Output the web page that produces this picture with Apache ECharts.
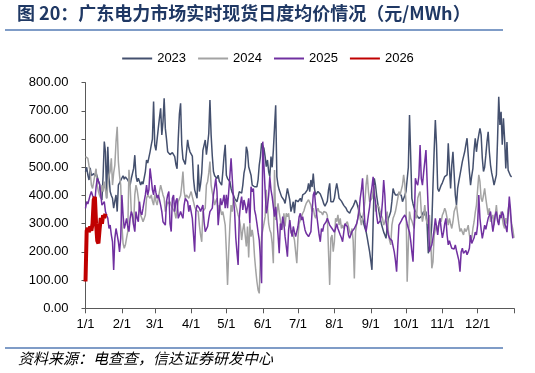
<!DOCTYPE html>
<html><head><meta charset="utf-8">
<script src="https://cdn.jsdelivr.net/npm/echarts@6/dist/echarts.min.js"></script>
<style>html,body{margin:0;padding:0;background:#fff;}#c{width:535px;height:373px;}</style>
</head><body><div id="c"></div>
<script>
const monthLengths = [31,28,31,30,31,30,31,31,30,31,30,31];
const monthTickIdx = [0,31,59,90,120,151,181,212,243,273,304,334,365];
const yTicks = [0,100,200,300,400,500,600,700,800];
const seriesNames = ['2023','2024','2025','2026'];

const s2023 = [
484,500,472,455,498,470,465,478,468,480,
485,452,440,402,384,470,591,555,390,573,
470,414,400,390,355,380,402,343,437,445,
449,462,470,458,466,470,455,448,437,460,
478,496,543,470,449,461,450,437,449,440,
437,485,526,515,508,555,579,600,733,579,
560,555,638,675,709,615,660,745,638,600,
555,548,545,540,552,555,538,510,495,600,
690,727,580,530,520,510,510,597,570,555,
555,540,460,420,405,390,510,414,440,480,
560,567,597,545,580,620,739,615,540,485,
470,465,460,472,450,445,437,485,540,580,
472,460,455,449,425,410,402,390,385,378,
395,414,420,408,437,479,500,573,555,502,
497,472,437,430,431,437,431,455,508,538,
585,580,567,538,502,526,485,467,538,500,
560,640,720,467,437,420,414,396,402,384,
372,378,425,420,384,343,360,378,337,384,
384,378,384,390,378,402,396,408,408,420,
443,414,455,430,478,425,402,408,414,420,
405,398,384,370,362,355,380,420,443,378,
372,378,390,420,443,420,390,384,380,378,
365,372,355,345,340,337,348,355,362,372,
384,375,360,343,330,325,319,300,285,272,
250,225,201,170,136,300,461,437,400,370,
343,320,300,295,270,260,248,290,319,330,
343,380,425,410,402,395,402,410,414,400,
378,385,400,414,420,500,685,540,390,370,
355,340,331,325,319,322,325,330,343,330,
343,295,195,189,236,300,437,560,668,580,
425,414,420,437,445,449,467,470,473,585,
500,425,508,555,480,402,366,425,450,473,
496,520,538,555,580,603,543,485,437,470,
496,560,603,555,590,615,638,615,532,485,
500,543,590,626,555,508,480,461,437,455,
473,600,750,650,697,580,674,600,496,590,
490,480,470,466
];

const s2024 = [
538,540,532,505,485,437,425,448,473,495,
437,414,400,390,437,414,449,420,390,437,
470,485,532,437,480,508,590,644,520,470,
437,295,230,213,225,250,272,491,437,343,
320,295,402,437,420,390,355,330,319,307,
318,331,390,402,395,390,402,380,366,402,
380,366,390,414,437,420,402,390,343,360,
378,370,378,365,355,360,340,319,350,378,
378,400,437,485,414,390,402,402,390,390,
414,395,378,360,350,343,343,295,260,236,
343,350,355,437,449,480,520,437,410,390,
366,380,390,343,366,350,331,343,320,295,
201,83,201,295,366,343,390,378,366,350,
331,319,290,242,278,301,307,219,290,180,
300,254,278,250,183,136,95,65,53,183,
254,278,300,325,420,360,300,278,266,230,
160,490,313,337,372,340,313,278,290,337,
290,337,325,337,300,266,278,260,242,200,
160,254,301,313,325,337,345,360,372,378,
385,390,366,343,355,331,319,343,355,343,
349,340,331,343,350,340,330,200,83,248,
260,201,236,319,307,331,295,319,283,295,
283,295,300,307,290,272,260,283,240,106,
272,300,319,366,319,295,320,343,380,437,
473,414,378,385,390,420,437,343,366,366,
360,343,330,319,295,307,320,343,272,240,
225,295,319,330,343,366,390,414,402,420,
437,473,440,378,94,225,343,319,310,307,
283,343,319,390,405,414,343,307,330,366,
319,300,295,331,250,142,165,260,280,295,
272,300,319,307,331,340,355,343,320,295,
319,300,283,307,343,355,366,331,300,272,
283,270,260,283,272,280,295,260,236,250,
283,307,340,366,420,473,449,390,378,400,
425,390,360,331,355,307,320,331,295,330,
366,319,300,295,343,320,295,283,320,300,
350,370,330,300,280,250
];

const s2025 = [
354,378,370,366,402,414,400,390,378,430,
461,466,440,402,366,372,378,343,330,319,
283,295,260,236,136,248,283,260,236,200,
248,402,331,283,300,319,290,272,319,343,
330,295,272,343,320,307,378,340,331,355,
380,402,437,402,420,496,461,420,402,437,
410,390,402,385,366,343,307,300,295,378,
402,414,300,272,390,402,343,380,390,319,
330,343,330,319,366,390,385,378,343,366,
360,319,260,201,343,366,360,355,343,350,
366,307,272,272,290,319,343,350,355,402,
430,461,414,295,343,390,366,380,402,355,
402,355,414,470,532,461,390,343,250,200,
154,319,372,396,349,384,366,337,361,390,
301,431,413,425,349,330,301,270,242,180,
89,591,585,420,337,360,400,467,420,396,
396,325,360,313,260,195,301,278,325,300,
254,220,183,278,313,278,254,290,270,254,
254,290,325,337,313,325,300,278,266,260,
254,260,272,343,402,414,366,330,295,260,
236,283,272,295,300,307,319,307,295,290,
283,290,270,283,300,283,283,260,250,236,
270,300,307,290,260,248,255,272,272,283,
283,300,320,343,390,420,461,370,300,272,
300,331,360,402,430,466,400,378,330,300,
295,310,331,380,455,400,307,280,260,248,
255,240,236,200,170,130,220,295,300,310,
319,325,331,320,300,283,270,240,200,165,
300,461,445,437,470,579,461,437,480,520,
561,450,343,201,215,225,250,280,319,290,
260,300,319,280,250,270,300,319,260,225,
240,225,213,220,210,225,205,201,170,130,
200,213,195,189,205,190,200,213,260,230,
236,250,270,260,295,402,319,280,248,270,
295,280,300,319,330,343,307,272,300,331,
343,310,295,331,320,343,331,300,290,270,
330,396,350,280,248
];

const s2026 = [95,275,285,270,290,275,300,385,395,300,240,230,280,320,300,330,320,335];

const colors = ['#44506e','#a3a3a3','#7030a0','#c00000'];

// category labels: one per day of the template year, plus the closing boundary
const categories = [];
monthLengths.forEach((len, m) => { for (let d = 1; d <= len; d++) categories.push((m + 1) + '/' + d); });
categories.push('end');
const tickSet = new Set(monthTickIdx);
const labelSet = new Set(monthTickIdx.slice(0, 12));

const chart = echarts.init(document.getElementById('c'), null, {renderer: 'canvas'});
const font = '"Liberation Sans", Arial, sans-serif';
const cjk = '"Noto Sans CJK SC", sans-serif';
const mk = (name, data, i, w) => ({
  name, type: 'line', data, symbol: 'none', showSymbol: false,
  lineStyle: {color: colors[i], width: w}, itemStyle: {color: colors[i]},
  emphasis: {disabled: true}, z: 2 + i
});
chart.setOption({
  animation: false,
  backgroundColor: '#fff',
  grid: {left: 85.5, right: 21, top: 82.7, bottom: 64.7, containLabel: false},
  legend: {
    data: seriesNames, top: 47, left: 'center', itemWidth: 30, itemHeight: 12, itemGap: 11,
    itemStyle: {opacity: 0},
    textStyle: {fontFamily: font, fontSize: 13, color: '#000'}
  },
  xAxis: {
    type: 'category', data: categories, boundaryGap: false,
    axisLine: {lineStyle: {color: '#595959', width: 1}},
    axisTick: {show: true, interval: (i) => tickSet.has(i), length: 5, lineStyle: {color: '#595959'}},
    axisLabel: {interval: (i) => labelSet.has(i), color: '#000', fontFamily: font, fontSize: 13, margin: 10},
    splitLine: {show: false}
  },
  yAxis: {
    type: 'value', min: yTicks[0], max: yTicks[yTicks.length - 1], interval: 100,
    axisLine: {show: true, lineStyle: {color: '#595959', width: 1}},
    axisTick: {show: true, length: 4, lineStyle: {color: '#595959'}},
    axisLabel: {formatter: (v) => v.toFixed(2), color: '#000', fontFamily: font, fontSize: 13, margin: 17},
    splitLine: {show: false}
  },
  graphic: [
    {type: 'text', left: 17, top: 4, style: {text: '图 20：广东电力市场实时现货日度均价情况（元/MWh）', fontFamily: cjk, fontWeight: 'bold', fontSize: 18, fill: '#1f3864'}},
    {type: 'line', shape: {x1: 5, y1: 30, x2: 503, y2: 30}, style: {stroke: '#7f9cc7', lineWidth: 2}},
    {type: 'line', shape: {x1: 5, y1: 348, x2: 503, y2: 348}, style: {stroke: '#7f9cc7', lineWidth: 2}},
    {type: 'text', left: 18, top: 351, style: {text: '资料来源：电查查，信达证券研发中心', fontFamily: cjk, fontStyle: 'italic', fontSize: 15, fill: '#000'}}
  ],
  series: [
    mk(seriesNames[0], s2023, 0, 1.5),
    mk(seriesNames[1], s2024, 1, 1.5),
    mk(seriesNames[2], s2025, 2, 1.5),
    mk(seriesNames[3], s2026, 3, 4)
  ]
});
</script></body></html>
